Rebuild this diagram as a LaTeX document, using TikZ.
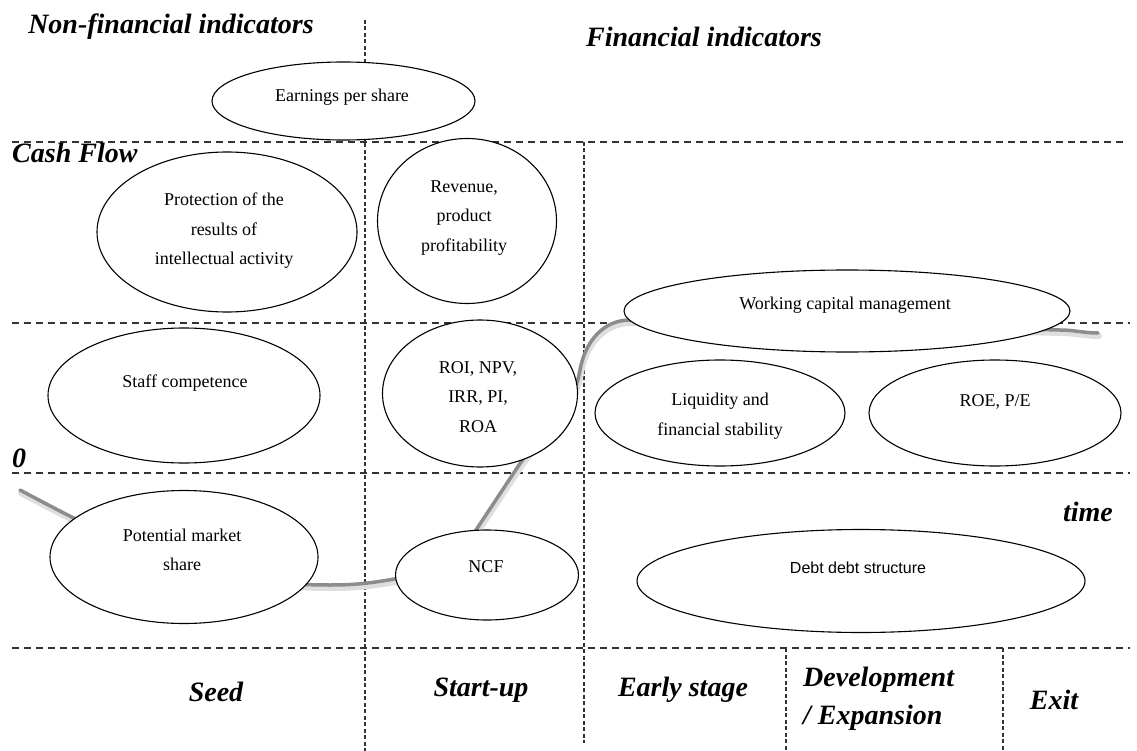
\documentclass[tikz,border=0pt]{standalone}
\usepackage{fontspec}
\setmainfont{Liberation Serif}
\setsansfont{Liberation Sans}
\usetikzlibrary{shapes.geometric}

\tikzset{
  blob/.style 2 args={draw, ellipse, fill=white, inner sep=0pt, line width=1.1pt,
    minimum width=#1pt, minimum height=#2pt},
  note/.style={align=center, inner sep=0pt, font=\fontsize{18}{29.5}\selectfont},
  head/.style={inner sep=0pt, font=\fontsize{28}{38}\selectfont\bfseries\itshape},
  hgrid/.style={dash pattern=on 7pt off 5pt, line width=1.5pt, black!80},
  vgrid/.style={dash pattern=on 4pt off 2.5pt, line width=1.1pt, black!80},
  flow/.style={line width=3.5pt, black!45, line cap=round},
  flowshade/.style={line width=6pt, black!13, line cap=round},
}

\begin{document}
\begin{tikzpicture}[x=1pt,y=-1pt]
    \useasboundingbox (0,0) rectangle (1137,751);

    % grid
    \draw[hgrid] (12,142) -- (1126,142);
    \draw[hgrid] (12,323) -- (1130,323);
    \draw[hgrid] (12,473) -- (1130,473);
    \draw[hgrid] (12,648) -- (1130,648);
    \draw[vgrid] (365,20) -- (365,751);
    \draw[vgrid] (584,142) -- (584,743);
    \draw[vgrid] (786,648) -- (786,751);
    \draw[vgrid] (1003,648) -- (1003,751);

    % cash flow curve
    \foreach \s/\dx/\dy in {flowshade/1/-3, flow/0/0}
        \draw[\s, xshift=\dx pt, yshift=\dy pt] (20,490) to[out=-28,in=180] (330,585)
            to[out=0,in=190] (400,578) to[out=10,in=235] (476,530) -- (519,465)
            to[out=55,in=-100] (580,370) to[out=80,in=180] (630,320)
            -- (1060,330) to[out=0,in=180] (1098,333);

    % ellipses
    \node[blob={263}{78}] (eps) at (343.5,101) {};
    \node[blob={260}{160}] (prot) at (227,232) {};
    \node[blob={179}{165}] (rev) at (467,221) {};
    \node[blob={446}{82}] (wcm) at (847,311) {};
    \node[blob={272}{135}] (staff) at (184,395.5) {};
    \node[blob={195}{147}] (roi) at (480,393.5) {};
    \node[blob={250}{106}] (liq) at (720,413) {};
    \node[blob={252}{106}] (roe) at (995,413) {};
    \node[blob={268}{133}] (pms) at (184,557) {};
    \node[blob={183}{90}] (ncf) at (487,575) {};
    \node[blob={448}{103}] (debt) at (861,581) {};

    \node[note] (eps-t) at (342,97) {Earnings per share};
    \node[note] (prot-t) at (224,231) {Protection of the\\results of\\intellectual activity};
    \node[note] (rev-t) at (464,218) {Revenue,\\product\\profitability};
    \node[note] (wcm-t) at (845,305) {Working capital management};
    \node[note] (staff-t) at (185,383) {Staff competence};
    \node[note] (roi-t) at (478,397) {ROI, NPV,\\IRR, PI,\\ROA};
    \node[note] (liq-t) at (720,416) {Liquidity and\\financial stability};
    \node[note] (roe-t) at (995,402) {ROE, P/E};
    \node[note] (pms-t) at (182,550) {Potential market\\share};
    \node[note] (ncf-t) at (486,567) {NCF};
    \node[note, font=\fontsize{16}{20}\sffamily] (debt-t) at (858,568) {Debt debt structure};

    % headings and axes
    \node[head] (nonfin) at (171,27) {Non-financial indicators};
    \node[head] (fin) at (704,37) {Financial indicators};
    \node[head, anchor=west] (cash) at (12,153) {Cash Flow};
    \node[head, anchor=west] (zero) at (12,458) {0};
    \node[head] (time) at (1088,512) {time};
    \node[head] (seed) at (216,692) {Seed};
    \node[head] (startup) at (481,690) {Start-up};
    \node[head] (early) at (683,690) {Early stage};
    \node[head, align=left, anchor=west] (dev) at (803,699) {Development\\/ Expansion};
    \node[head] (exit) at (1054,700) {Exit};

\end{tikzpicture}
\end{document}
